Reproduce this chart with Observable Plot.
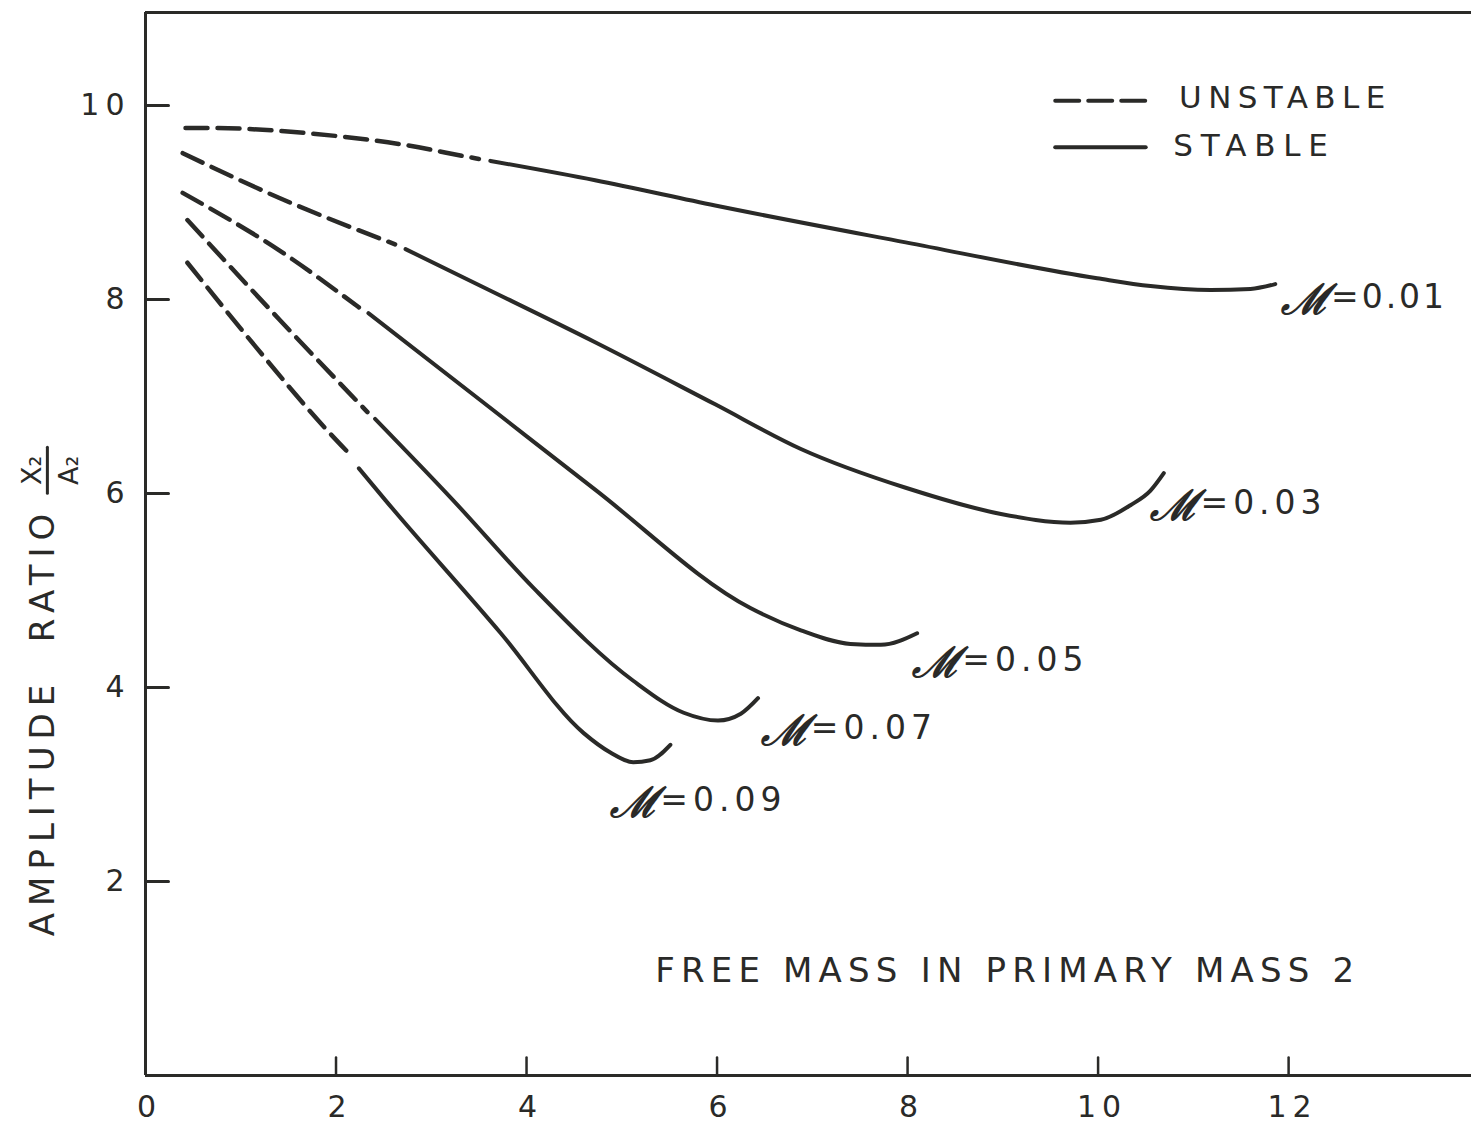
<!DOCTYPE html>
<html><head><meta charset="utf-8">
<script src="https://cdn.jsdelivr.net/npm/d3@7"></script>
<script src="https://cdn.jsdelivr.net/npm/@observablehq/plot@0.6"></script>
<style>
body{margin:0;background:#fff;}
#chart svg text{fill:#2a2a28;}
g[aria-label="x-axis tick label"] text, g[aria-label="y-axis tick label"] text{letter-spacing:6px;}
</style></head><body><div id="chart"></div>
<script>
// ---- data ----
const muValues = [0.01, 0.03, 0.05, 0.07, 0.09];
const muText = ["=0.01", "=0.03", "=0.05", "=0.07", "=0.09"];
const curve001 = [[0.42,9.77],[0.63,9.77],[1.76,9.71],[2.75,9.59],[3.39,9.47],[3.50,9.45],[3.62,9.43],[4.72,9.23],[5.98,8.97],[7.98,8.59],[9.99,8.22],[10.55,8.14],[11.18,8.10],[11.60,8.11],[11.86,8.16]];
const curve003 = [[0.39,9.51],[1.40,9.05],[2.62,8.57],[2.73,8.52],[3.52,8.14],[4.72,7.56],[5.98,6.92],[6.88,6.46],[7.98,6.06],[8.98,5.79],[9.71,5.70],[10.03,5.73],[10.34,5.88],[10.55,6.03],[10.69,6.21]];
const curve005 = [[0.39,9.10],[1.40,8.51],[2.24,7.92],[2.34,7.86],[3.52,6.96],[4.72,6.04],[6.35,4.82],[6.88,4.59],[7.40,4.45],[7.72,4.44],[8.10,4.56]];
const curve007 = [[0.44,8.82],[1.40,7.80],[2.33,6.84],[2.41,6.77],[3.23,5.93],[4.07,5.03],[5.12,4.07],[5.65,3.74],[6.01,3.66],[6.25,3.73],[6.43,3.89]];
const curve009 = [[0.44,8.38],[1.16,7.51],[1.89,6.67],[2.13,6.42],[2.24,6.26],[2.52,5.93],[3.73,4.56],[4.60,3.53],[4.88,3.33],[5.12,3.23],[5.30,3.25],[5.51,3.41]];
const stableFrom = [3.55, 2.68, 2.29, 2.37, 2.18];
const labelX = [11.92, 10.55, 8.05, 6.46, 4.88];
const labelY = [8.02, 5.90, 4.28, 3.58, 2.84];
const xTicks = [0, 2, 4, 6, 8, 10, 12];
const yTicks = [2, 4, 6, 8, 10];
const legendNames = ["UNSTABLE", "STABLE"];
const legendX = [9.55, 10.5];
const legendY = [10.05, 9.57];
const legendTextX = [10.85, 10.79];
const legendTextY = [10.08, 9.58];
const annotation = "FREE MASS IN PRIMARY MASS 2";
const annotationAt = [5.35, 1.08];
const yTitle = "AMPLITUDE  RATIO";
const yTitleAt = [-1.07, 3.65];
const fracTop = "X₂", fracBottom = "A₂";
const fracAt = [[-1.19, 6.24], [-0.80, 6.24], [-1.03, 6.24]];

// ---- build tables ----
const curves = [curve001, curve003, curve005, curve007, curve009];
const unstable = [], stable = [];
curves.forEach((c, i) => {
  c.forEach(([x, y]) => {
    if (x < stableFrom[i]) unstable.push({mu: muValues[i], x, y});
    else stable.push({mu: muValues[i], x, y});
  });
});
const labels = muValues.map((m, i) => ({mu: m, x: labelX[i], y: labelY[i], t: muText[i]}));
const legendLines = legendNames.flatMap((n, i) => legendX.map(x => ({n, x, y: legendY[i]})));
const legendTexts = legendNames.map((n, i) => ({n, x: legendTextX[i], y: legendTextY[i]}));

const ink = "#2a2a28";
const seg = {draw(ctx, l) { ctx.moveTo(0, 0); ctx.lineTo(0, -l); }};

const chart = Plot.plot({
  width: 1471, height: 1125,
  marginLeft: 145, marginRight: 0, marginTop: 12, marginBottom: 50,
  x: {domain: [0, 13.92]},
  y: {domain: [0, 10.96]},
  style: {fontFamily: "DejaVu Sans, sans-serif", color: ink, background: "#fff"},
  marks: [
    Plot.ruleY([0], {stroke: ink, strokeWidth: 3}),
    Plot.ruleY([10.96], {stroke: ink, strokeWidth: 3}),
    Plot.ruleX([0], {stroke: ink, strokeWidth: 3}),
    Plot.vector(xTicks.filter(d => d > 0), {x: d => d, y: 0, length: 18, rotate: 0, anchor: "start", shape: seg, stroke: ink, strokeWidth: 2.5}),
    Plot.vector(yTicks, {x: 0, y: d => d, length: 23, rotate: 90, anchor: "start", shape: seg, stroke: ink, strokeWidth: 3}),
    Plot.axisX(xTicks, {tickSize: 0, tickPadding: 20, fontSize: 30, anchor: "bottom", label: null, tickFormat: d => String(d), dx: 4}),
    Plot.axisY(yTicks, {tickSize: 0, tickPadding: 15, fontSize: 30, anchor: "left", label: null, tickFormat: d => String(d)}),
    Plot.line(unstable, {x: "x", y: "y", z: "mu", curve: "monotone-x", stroke: ink, strokeWidth: 4.5, strokeDasharray: "22,10", strokeLinecap: "round"}),
    Plot.line(stable, {x: "x", y: "y", z: "mu", curve: "monotone-x", stroke: ink, strokeWidth: 4, strokeLinecap: "round"}),
    Plot.text(labels, {x: "x", y: "y", text: () => "ℳ", fontSize: 42, fontStyle: "italic", fontWeight: "bold", fontFamily: "DejaVu Serif", textAnchor: "start", dy: 3}),
    Plot.text(labels, {x: "x", y: "y", text: "t", fontSize: 33, textAnchor: "start", dx: 50}),
    Plot.line(legendLines.filter(d => d.n === "UNSTABLE"), {x: "x", y: "y", stroke: ink, strokeWidth: 4, strokeDasharray: "24,9", strokeLinecap: "round"}),
    Plot.line(legendLines.filter(d => d.n === "STABLE"), {x: "x", y: "y", stroke: ink, strokeWidth: 4, strokeLinecap: "round"}),
    Plot.text(legendTexts, {x: "x", y: "y", text: "n", fontSize: 31, textAnchor: "start"}),
    Plot.text([annotation], {x: () => annotationAt[0], y: () => annotationAt[1], text: d => d, fontSize: 34, textAnchor: "start"}),
    Plot.text([yTitle], {x: () => yTitleAt[0], y: () => yTitleAt[1], text: d => d, rotate: -90, fontSize: 34}),
    Plot.text([fracTop, fracBottom], {x: (d, i) => fracAt[i][0], y: (d, i) => fracAt[i][1], text: d => d, rotate: -90, fontSize: 27}),
    Plot.vector([0], {x: () => fracAt[2][0], y: () => fracAt[2][1], length: 46, rotate: 0, anchor: "middle", shape: seg, stroke: ink, strokeWidth: 3})
  ]
});

// letter spacing of the hand lettering
const spacing = new Map([["UNSTABLE", 6.4], ["STABLE", 7.8], [annotation, 6.2], [yTitle, 7], ["=0.01", 3]]);
d3.select(chart).selectAll("text").each(function () {
  const t = this.textContent;
  if (spacing.has(t)) this.style.letterSpacing = spacing.get(t) + "px";
  else if (t.startsWith("=")) this.style.letterSpacing = "5px";
});
document.getElementById("chart").appendChild(chart);
</script></body></html>
